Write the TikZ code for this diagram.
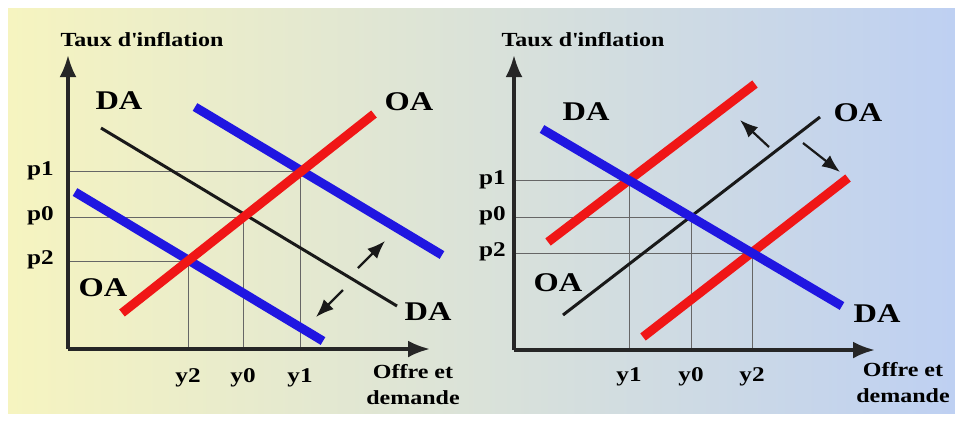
\documentclass[tikz,border=0pt]{standalone}
\usepackage{fontspec}
\setmainfont{Liberation Serif}[FakeStretch=1.2]
\usepackage{tikz}
\usetikzlibrary{arrows.meta,positioning,calc}
\definecolor{bgleft}{RGB}{246,244,192}
\definecolor{bgright}{RGB}{190,208,242}
\definecolor{oared}{RGB}{240,22,22}
\definecolor{dablue}{RGB}{32,22,225}
\tikzset{
  axis/.style={line width=3.5pt,draw=black!85,-{Latex[length=22pt,width=17pt]}},
  gridln/.style={line width=0.9pt,draw=black!60},
  oaline/.style={line width=9pt,draw=oared},
  daline/.style={line width=9pt,draw=dablue},
  baseln/.style={line width=3pt,draw=black!90},
  move/.style={line width=2.2pt,draw=black!90,-{Latex[length=18pt,width=14pt]}},
  curvelbl/.style={font=\fontsize{27}{27}\selectfont\bfseries,inner sep=0pt},
  ticklbl/.style={font=\fontsize{21}{21}\selectfont\bfseries,inner sep=0pt},
  axislbl/.style={font=\fontsize{20}{20}\selectfont\bfseries,inner sep=0pt},
  qtylbl/.style={font=\fontsize{20}{26}\selectfont\bfseries,inner sep=0pt,align=center,anchor=north},
}
\begin{document}
\begin{tikzpicture}[x=1pt,y=-1pt]
 \useasboundingbox (0,0) rectangle (955,421);
 \fill[white] (0,0) rectangle (955,421);
 \shade[left color=bgleft,right color=bgright] (8,8) rectangle (955,413);

 % left panel: demand shifts
 \coordinate (lO) at (68,349);
 \coordinate (lYtop) at (68,55);
 \coordinate (lXend) at (430,349);
 \coordinate (le1) at (300,171);
 \coordinate (le0) at (243,217);
 \coordinate (le2) at (188,261);
 \foreach \e in {le1,le0,le2}{
   \draw[gridln] (lO |- \e) -- (\e) -- (\e |- lO);}
 \draw[axis] (lO) -- (lYtop);
 \draw[axis] (lO) -- (lXend);
 \coordinate (lOAa) at (122,313);  \coordinate (lOAb) at (374,114);
 \coordinate (lDAa) at (101,128);  \coordinate (lDAb) at (397,306);
 \coordinate (lDAhia) at (195,107); \coordinate (lDAhib) at (442,255);
 \coordinate (lDAloa) at (75,192);  \coordinate (lDAlob) at (323,341);
 \draw[baseln] (lDAa) -- (lDAb);
 \draw[daline] (lDAhia) -- (lDAhib);
 \draw[daline] (lDAloa) -- (lDAlob);
 \draw[oaline] (lOAa) -- (lOAb);
 \coordinate (lup0) at (358,268);  \coordinate (lup1) at (385,241);
 \coordinate (ldn0) at (343,290);  \coordinate (ldn1) at (316,317);
 \draw[move] (lup0) -- (lup1);
 \draw[move] (ldn0) -- (ldn1);
 \node[curvelbl] (lDAtl) at (119,101) {DA};
 \node[curvelbl] (lDAbr) at (428,312) {DA};
 \node[curvelbl] (lOAtr) at (409,102) {OA};
 \node[curvelbl] (lOAbl) at (103,288) {OA};
 \node[axislbl] (lYlbl) at (142,40) {Taux d\textquotesingle inflation};
 \node[qtylbl] (lXlbl) at (413,364) {Offre et\\demande};
 \node[ticklbl,anchor=mid east] (lp1) at (54,173) {p1};
 \node[ticklbl,anchor=mid east] (lp0) at (54,218) {p0};
 \node[ticklbl,anchor=mid east] (lp2) at (54,262) {p2};
 \node[ticklbl,anchor=base] (ly2) at (188,382) {y2};
 \node[ticklbl,anchor=base] (ly0) at (243,382) {y0};
 \node[ticklbl,anchor=base] (ly1) at (300,382) {y1};

 % right panel: supply shifts
 \coordinate (rO) at (514,350);
 \coordinate (rYtop) at (514,55);
 \coordinate (rXend) at (875,350);
 \coordinate (re1) at (629,180);
 \coordinate (re0) at (691,217);
 \coordinate (re2) at (752,253);
 \foreach \e in {re1,re0,re2}{
   \draw[gridln] (rO |- \e) -- (\e) -- (\e |- rO);}
 \draw[axis] (rO) -- (rYtop);
 \draw[axis] (rO) -- (rXend);
 \coordinate (rOAa) at (563,315);  \coordinate (rOAb) at (820,117);
 \coordinate (rDAa) at (542,129);  \coordinate (rDAb) at (842,306);
 \coordinate (rOAhia) at (548,242); \coordinate (rOAhib) at (755,84);
 \coordinate (rOAloa) at (643,337); \coordinate (rOAlob) at (848,178);
 \draw[baseln] (rOAa) -- (rOAb);
 \draw[oaline] (rOAhia) -- (rOAhib);
 \draw[oaline] (rOAloa) -- (rOAlob);
 \draw[daline] (rDAa) -- (rDAb);
 \coordinate (rup0) at (769,147);  \coordinate (rup1) at (740,120);
 \coordinate (rdn0) at (803,143);  \coordinate (rdn1) at (840,172);
 \draw[move] (rup0) -- (rup1);
 \draw[move] (rdn0) -- (rdn1);
 \node[curvelbl] (rDAtl) at (586,112) {DA};
 \node[curvelbl] (rDAbr) at (877,314) {DA};
 \node[curvelbl] (rOAtr) at (858,113) {OA};
 \node[curvelbl] (rOAbl) at (558,283) {OA};
 \node[axislbl] (rYlbl) at (583,40) {Taux d\textquotesingle inflation};
 \node[qtylbl] (rXlbl) at (903,362) {Offre et\\demande};
 \node[ticklbl,anchor=mid east] (rp1) at (506,182) {p1};
 \node[ticklbl,anchor=mid east] (rp0) at (506,218) {p0};
 \node[ticklbl,anchor=mid east] (rp2) at (506,254) {p2};
 \node[ticklbl,anchor=base] (ry1) at (629,381) {y1};
 \node[ticklbl,anchor=base] (ry0) at (691,381) {y0};
 \node[ticklbl,anchor=base] (ry2) at (752,381) {y2};
\end{tikzpicture}
\end{document}
